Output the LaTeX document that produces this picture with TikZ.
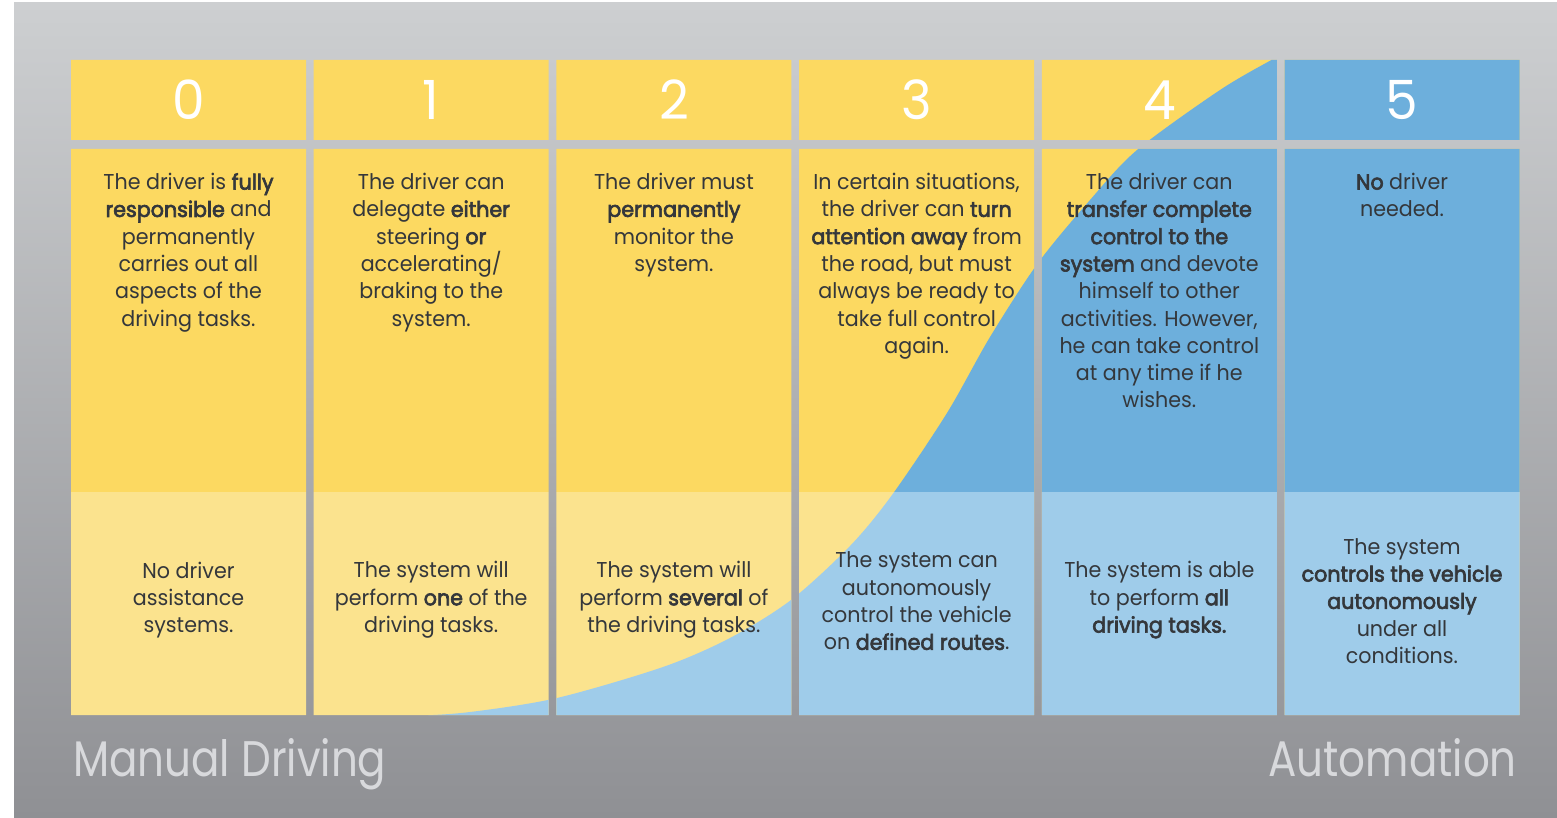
\documentclass[tikz,border=0pt]{standalone}
\usepackage{fontspec}
\setmainfont{Poppins}[FakeStretch=0.96,BoldFont=Poppins,BoldFeatures={FakeBold=3}]
\newfontfamily\endfont{Poppins}[FakeStretch=0.84]
\definecolor{ytop}{HTML}{FCD961}
\definecolor{ylow}{HTML}{FBE38E}
\definecolor{btop}{HTML}{6DAFDC}
\definecolor{blow}{HTML}{9FCCEA}
\definecolor{txt}{HTML}{34373B}
\definecolor{bgtop}{HTML}{CDCFD1}
\definecolor{bgbot}{HTML}{8F9094}
\definecolor{capc}{HTML}{D8D9DC}
\begin{document}
\begin{tikzpicture}[x=1pt,y=-1pt,
  desctext/.style={align=center,text=txt,font=\fontsize{21.5}{27.3}\selectfont,inner sep=0pt},
  leveldigit/.style={text=white,font=\fontsize{54}{60}\selectfont,inner sep=0pt},
  endlabel/.style={text=capc,font=\endfont\fontsize{50}{56}\selectfont,inner sep=0pt}]
\useasboundingbox (0,0) rectangle (1557,818);
\fill[white] (0,0) rectangle (1557,818);
\shade[top color=bgtop,bottom color=bgbot] (14,3) rectangle (1557,818);
% cells with S-curve split
\begin{scope}
  \clip \foreach \i in {0,...,5} {(71+242.7*\i,60) rectangle ++(235,80) (71+242.7*\i,149) rectangle ++(235,566)};
  \fill[ytop] (60,50) rectangle (1530,492);
  \fill[ylow] (60,492) rectangle (1530,720);
  \begin{scope}
    \clip plot[smooth] coordinates {(340,717) (410,716) (470,712) (557,698) (663,667) (730,638) (791,600) (850,546) (892,495) (947,413) (990,337) (1038,263) (1090,200) (1137,150) (1220,90) (1275,58) (1300,45)}
      -- (1540,30) -- (1540,730) -- (340,730) -- cycle;
    \fill[btop] (60,30) rectangle (1540,492);
    \fill[blow] (60,492) rectangle (1540,730);
  \end{scope}
\end{scope}
% level digits
\node[leveldigit] (h0) at (188.5,100) {0};
\node[leveldigit] (h1) at (431.2,100) {1};
\node[leveldigit] (h2) at (673.9,100) {2};
\node[leveldigit] (h3) at (916.6,100) {3};
\node[leveldigit] (h4) at (1159.3,100) {4};
\node[leveldigit] (h5) at (1402,100) {5};
% driver descriptions
\node[desctext,anchor=north] (d0) at (188.5,173) {The driver is \textbf{fully}\\\textbf{responsible} and\\permanently\\carries out all\\aspects of the\\driving tasks.};
\node[desctext,anchor=north] (d1) at (431.2,173) {The driver can\\delegate \textbf{either}\\steering \textbf{or}\\accelerating/\\braking to the\\system.};
\node[desctext,anchor=north] (d2) at (673.9,173) {The driver must\\\textbf{permanently}\\monitor the\\system.};
\node[desctext,anchor=north] (d3) at (916.6,173) {In certain situations,\\the driver can \textbf{turn}\\\textbf{attention away} from\\the road, but must\\always be ready to\\take full control\\again.};
\node[desctext,anchor=north] (d4) at (1159.3,173) {The driver can\\\textbf{transfer complete}\\\textbf{control to the}\\\textbf{system} and devote\\himself to other\\activities. However,\\he can take control\\at any time if he\\wishes.};
\node[desctext,anchor=north] (d5) at (1402,173) {\textbf{No} driver\\needed.};
% system descriptions
\node[desctext] (s0) at (188.5,600) {No driver\\assistance\\systems.};
\node[desctext] (s1) at (431.2,600) {The system will\\perform \textbf{one} of the\\driving tasks.};
\node[desctext] (s2) at (673.9,600) {The system will\\perform \textbf{several} of\\the driving tasks.};
\node[desctext] (s3) at (916.6,601) {The system can\\autonomously\\control the vehicle\\on \textbf{defined routes}.};
\node[desctext] (s4) at (1159.3,600) {The system is able\\to perform \textbf{all}\\\textbf{driving tasks.}};
\node[desctext] (s5) at (1402,601) {The system\\\textbf{controls the vehicle}\\\textbf{autonomously}\\under all\\conditions.};
% end labels
\node[endlabel,anchor=base west] (manual) at (73,776) {Manual Driving};
\node[endlabel,anchor=base east] (auto) at (1517,776) {Automation};
\end{tikzpicture}
\end{document}
